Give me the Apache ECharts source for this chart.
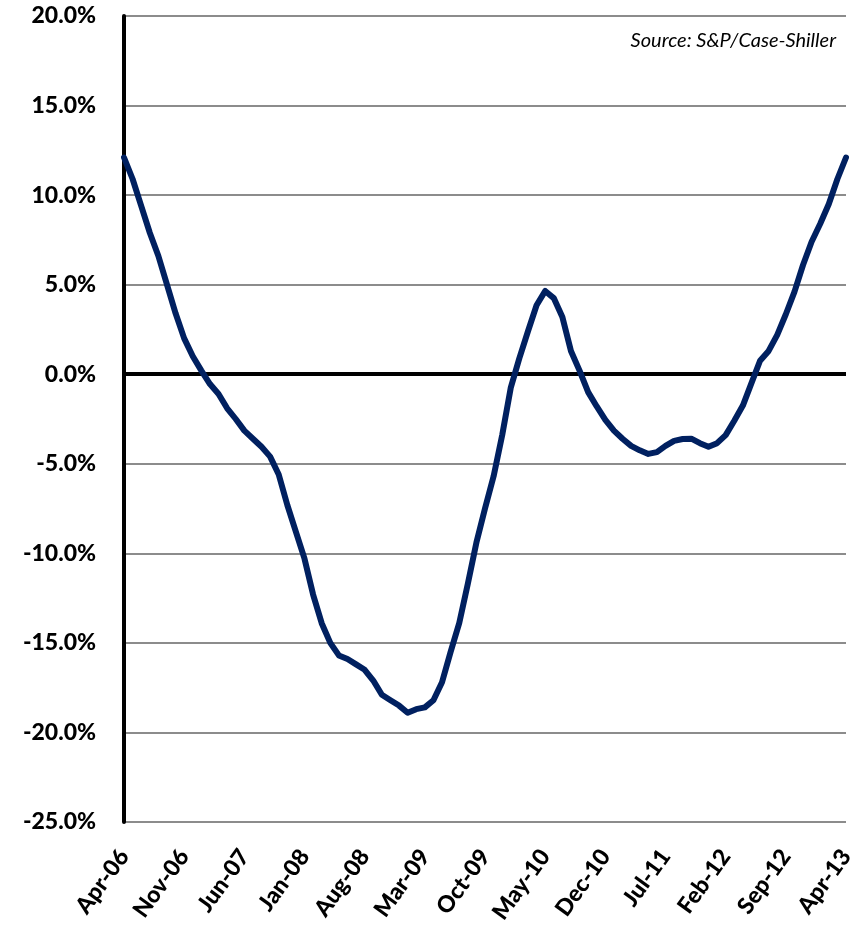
<!DOCTYPE html>
<html>
<head>
<meta charset="utf-8">
<script src="https://cdn.jsdelivr.net/npm/echarts@6/dist/echarts.min.js"></script>
<style>
    html, body { margin: 0; padding: 0; background: #fff; }
    #main { width: 858px; height: 930px; }
</style>
</head>
<body>
<div id="main"></div>
<script>
// year-over-year change, %, monthly from Apr-06 to Apr-13
var values = [
    12.1, 10.9, 9.4, 7.9, 6.6, 5.0, 3.4, 2.0, 1.0, 0.2,
    -0.55, -1.1, -1.9, -2.5, -3.15, -3.6, -4.05, -4.6, -5.6, -7.3,
    -8.8, -10.3, -12.3, -13.9, -15.0, -15.7, -15.9, -16.2, -16.5, -17.1,
    -17.9, -18.2, -18.5, -18.9, -18.7, -18.6, -18.2, -17.2, -15.5, -13.9,
    -11.7, -9.4, -7.5, -5.7, -3.4, -0.75, 0.9, 2.4, 3.85, 4.65,
    4.25, 3.2, 1.3, 0.2, -1.0, -1.8, -2.55, -3.15, -3.6, -4.0,
    -4.25, -4.45, -4.35, -4.0, -3.72, -3.62, -3.6, -3.85, -4.05, -3.85,
    -3.4, -2.6, -1.75, -0.5, 0.75, 1.3, 2.2, 3.35, 4.6, 6.1,
    7.4, 8.4, 9.5, 10.9, 12.1
];

var monthNames = ['Jan','Feb','Mar','Apr','May','Jun','Jul','Aug','Sep','Oct','Nov','Dec'];
var startYear = 2006, startMonth = 3;   // Apr-06
var yTicks = { min: -25, max: 20, step: 5 };
var sourceNote = 'Source: S&P/Case-Shiller';

function buildMonths(n) {
    var out = [];
    for (var i = 0; i < n; i++) {
        var m = (startMonth + i) % 12;
        var y = startYear + Math.floor((startMonth + i) / 12);
        out.push(monthNames[m] + '-' + String(y % 100).padStart(2, '0'));
    }
    return out;
}

var months = buildMonths(values.length);
var font = 'Lato, "Open Sans", sans-serif';

var chart = echarts.init(document.getElementById('main'));

var option = {
    animation: false,
    backgroundColor: '#fff',
    grid: {
        left: 124,
        right: 12,
        top: 16,
        bottom: 108
    },
    graphic: [{
        type: 'text',
        right: 22,
        top: 31,
        style: {
            text: sourceNote,
            font: 'italic 20px ' + font,
            fill: '#000'
        }
    }],
    xAxis: {
        type: 'category',
        boundaryGap: false,
        data: months,
        axisLine: { show: false },
        axisTick: { show: false },
        splitLine: { show: false },
        axisLabel: {
            interval: 6,
            rotate: 54,
            margin: 30,
            padding: [0, 0, 0, 0],
            color: '#000',
            fontFamily: font,
            fontWeight: 900,
            fontSize: 23
        }
    },
    yAxis: {
        type: 'value',
        min: yTicks.min,
        max: yTicks.max,
        interval: yTicks.step,
        axisLine: {
            show: true,
            lineStyle: { color: '#000', width: 4 }
        },
        axisTick: { show: false },
        splitLine: {
            lineStyle: { color: '#8c8c8c', width: 2 }
        },
        axisLabel: {
            margin: 28,
            color: '#000',
            fontFamily: font,
            fontWeight: 900,
            fontSize: 23,
            formatter: function (v) { return v.toFixed(1) + '%'; }
        }
    },
    series: [{
        type: 'line',
        data: values,
        symbol: 'none',
        smooth: false,
        lineStyle: { color: '#002060', width: 6, cap: 'round', join: 'round' },
        z: 3,
        markLine: {
            silent: true,
            symbol: 'none',
            label: { show: false },
            lineStyle: { color: '#000', width: 4, type: 'solid' },
            data: [{ yAxis: 0 }],
            z: 2
        }
    }]
};

chart.setOption(option);
</script>
</body>
</html>
